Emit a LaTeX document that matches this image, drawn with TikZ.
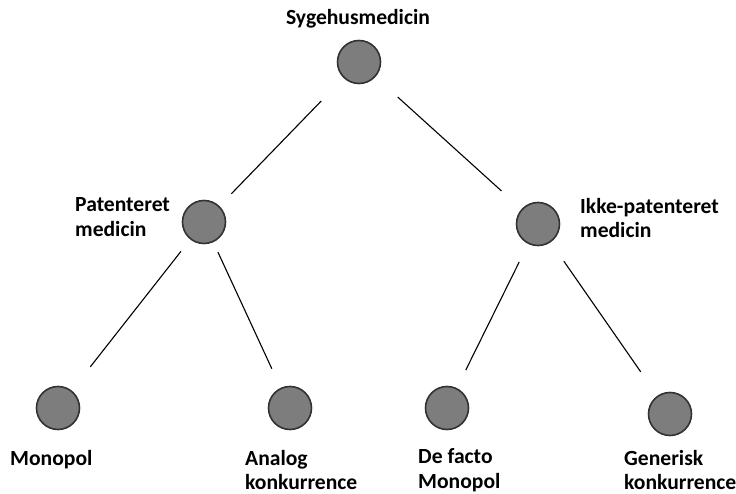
\documentclass[tikz,border=0pt]{standalone}
\usepackage{fontspec}
\setmainfont{Carlito}
\usetikzlibrary{positioning}
\definecolor{DotGray}{RGB}{125,125,125}
\definecolor{DotRim}{RGB}{50,50,50}
\tikzset{
  v/.style={circle,draw=DotRim,fill=DotGray,line width=1.6pt,minimum size=43pt,inner sep=0pt},
  link/.style={draw=black,line width=1.1pt},
  lab/.style={font=\bfseries\fontsize{21.6}{24.5}\selectfont,align=left,inner sep=0pt},
}

\begin{document}
\begin{tikzpicture}[x=1pt,y=-1pt]
\useasboundingbox (0,0) rectangle (736,494);
\node[v] (top) at (359,62) {};
\node[v] (pat) at (204,222) {};
\node[v] (ikke) at (538,224) {};
\node[v] (mono) at (58,408) {};
\node[v] (analog) at (290,408) {};
\node[v] (defacto) at (447,408) {};
\node[v] (generisk) at (670,414) {};
\draw[link,shorten <=32pt,shorten >=17pt] (top) -- (pat);
\draw[link,shorten <=30pt,shorten >=27pt] (top) -- (ikke);
\draw[link,shorten <=15pt,shorten >=30pt] (pat) -- (mono);
\draw[link,shorten <=11pt,shorten >=21pt] (pat) -- (analog);
\draw[link,shorten <=20pt,shorten >=20pt] (ikke) -- (defacto);
\draw[link,shorten <=23pt,shorten >=29pt] (ikke) -- (generisk);
\node[lab,anchor=base] (toplab) at (358,25) {Sygehusmedicin};
\node[lab,anchor=west] (patlab) at (75,217) {Patenteret\\medicin};
\node[lab,anchor=west] (ikkelab) at (580,218) {Ikke-patenteret\\medicin};
\node[lab,anchor=base west] (monolab) at (10,465) {Monopol};
\node[lab,anchor=west] (analoglab) at (245,470) {Analog\\konkurrence};
\node[lab,anchor=west] (defactolab) at (418,470) {De facto\\Monopol};
\node[lab,anchor=west] (generisklab) at (624,470) {Generisk\\konkurrence};
\end{tikzpicture}
\end{document}
